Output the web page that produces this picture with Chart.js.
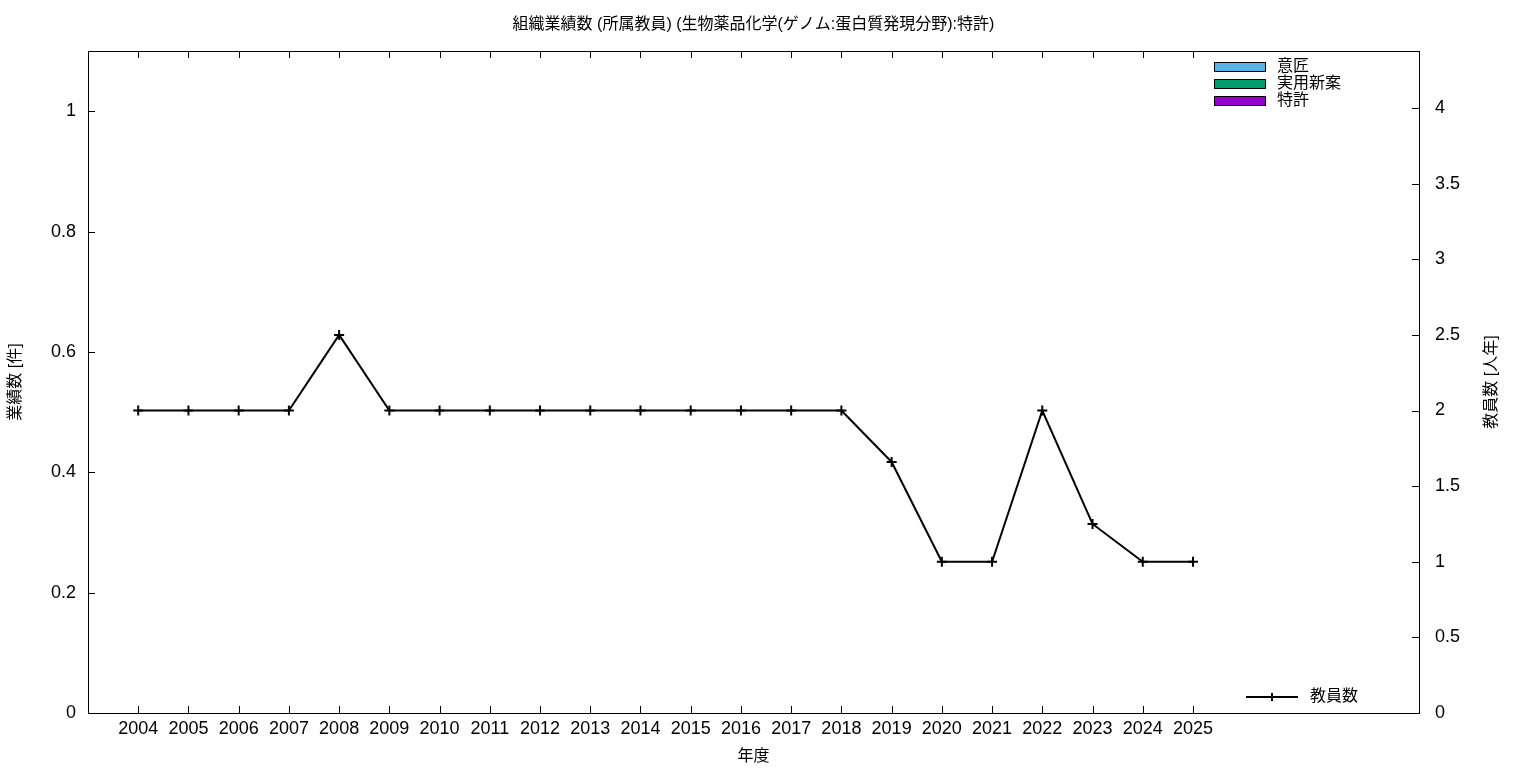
<!DOCTYPE html>
<html>
<head>
<meta charset="utf-8">
<script src="https://cdn.jsdelivr.net/npm/chart.js@4.4.1/dist/chart.umd.min.js"></script>
<style>
  html, body { margin: 0; padding: 0; background: #fff; }
  #wrap { width: 1536px; height: 768px; }
</style>
</head>
<body>
<div id="wrap"><canvas id="chart" width="1536" height="768"></canvas></div>
<script>
const years = [2004, 2005, 2006, 2007, 2008, 2009, 2010, 2011, 2012, 2013, 2014,
  2015, 2016, 2017, 2018, 2019, 2020, 2021, 2022, 2023, 2024, 2025];
const design = [0, 0, 0, 0, 0, 0, 0, 0, 0, 0, 0, 0, 0, 0, 0, 0, 0, 0, 0, 0, 0, 0];
const utilityModel = [0, 0, 0, 0, 0, 0, 0, 0, 0, 0, 0, 0, 0, 0, 0, 0, 0, 0, 0, 0, 0, 0];
const patent = [0, 0, 0, 0, 0, 0, 0, 0, 0, 0, 0, 0, 0, 0, 0, 0, 0, 0, 0, 0, 0, 0];
const staff = [2, 2, 2, 2, 2.5, 2, 2, 2, 2, 2, 2, 2, 2, 2, 2, 1.66, 1, 1, 2, 1.25, 1, 1];
const leftTicks = [0, 0.2, 0.4, 0.6, 0.8, 1];
const rightTicks = [0, 0.5, 1, 1.5, 2, 2.5, 3, 3.5, 4];

const titleText = "組織業績数 (所属教員) (生物薬品化学(ゲノム:蛋白質発現分野):特許)";
const y2Title = "教員数 [人年]";
const FONT = "'Liberation Sans', 'Noto Sans CJK JP', sans-serif";

const pts = arr => arr.map((v, i) => ({ x: years[i], y: v }));
const num = v => String(Math.round(v * 100) / 100);

// frame, inward ticks, title, right axis title and the two legends (gnuplot look)
const gnuplotLook = {
  id: "gnuplotLook",
  afterDraw(chart) {
    const ctx = chart.ctx;
    const a = chart.chartArea;
    const sx = chart.scales.x, sy = chart.scales.y, sy2 = chart.scales.y2;
    ctx.save();
    ctx.strokeStyle = "#000";
    ctx.lineWidth = 1;
    ctx.strokeRect(Math.round(a.left) + 0.5, Math.round(a.top) + 0.5,
      Math.round(a.right - a.left), Math.round(a.bottom - a.top));
    ctx.beginPath();
    sx.ticks.forEach(t => {
      const x = Math.round(sx.getPixelForValue(t.value)) + 0.5;
      ctx.moveTo(x, a.bottom); ctx.lineTo(x, a.bottom - 7);
      ctx.moveTo(x, a.top); ctx.lineTo(x, a.top + 7);
    });
    sy.ticks.forEach(t => {
      const y = Math.round(sy.getPixelForValue(t.value)) + 0.5;
      ctx.moveTo(a.left, y); ctx.lineTo(a.left + 7, y);
    });
    sy2.ticks.forEach(t => {
      const y = Math.round(sy2.getPixelForValue(t.value)) + 0.5;
      ctx.moveTo(a.right, y); ctx.lineTo(a.right - 7, y);
    });
    ctx.stroke();

    ctx.fillStyle = "#000";
    ctx.font = "16px " + FONT;
    ctx.textAlign = "center";
    ctx.textBaseline = "middle";
    ctx.fillText(titleText, (a.left + a.right) / 2, 25);

    ctx.save();
    ctx.translate(1492, (a.top + a.bottom) / 2);
    ctx.rotate(-Math.PI / 2);
    ctx.fillText(y2Title, 0, 0);
    ctx.restore();

    // bar legend, top right
    ctx.textAlign = "left";
    chart.data.datasets.filter(d => d.type === "bar").forEach((d, i) => {
      const y = 67 + i * 17;
      ctx.fillStyle = d.backgroundColor;
      ctx.fillRect(1215, y - 4, 50, 8);
      ctx.strokeStyle = "#000";
      ctx.lineWidth = 1;
      ctx.strokeRect(1214.5, y - 4.5, 51, 9);
      ctx.fillStyle = "#000";
      ctx.fillText(d.label, 1277, y);
    });

    // line legend, bottom right
    const ld = chart.data.datasets.find(d => d.type === "line");
    const ly = 697;
    ctx.strokeStyle = ld.borderColor;
    ctx.lineWidth = 2;
    ctx.beginPath();
    ctx.moveTo(1246, ly); ctx.lineTo(1298, ly);
    ctx.moveTo(1272, ly - 4); ctx.lineTo(1272, ly + 4);
    ctx.stroke();
    ctx.fillStyle = "#000";
    ctx.fillText(ld.label, 1310, ly);
    ctx.restore();
  }
};

const barOpts = { yAxisID: "y", barThickness: 10, borderWidth: 0, inflateAmount: 0 };

new Chart(document.getElementById("chart"), {
  data: {
    datasets: [
      { type: "bar", label: "意匠", data: pts(design), backgroundColor: "#56b4e9", ...barOpts },
      { type: "bar", label: "実用新案", data: pts(utilityModel), backgroundColor: "#009e73", ...barOpts },
      { type: "bar", label: "特許", data: pts(patent), backgroundColor: "#9400d3", ...barOpts },
      {
        type: "line", label: "教員数", data: pts(staff), yAxisID: "y2",
        borderColor: "#000", borderWidth: 2, tension: 0,
        pointStyle: "cross", pointRadius: 5, pointBorderWidth: 2,
        pointBorderColor: "#000", pointBackgroundColor: "#000"
      }
    ]
  },
  options: {
    responsive: false,
    animation: false,
    layout: { padding: { top: 51 } },
    plugins: { legend: { display: false }, title: { display: false }, tooltip: { enabled: false } },
    scales: {
      x: {
        type: "linear", min: 2003, max: 2029.5, offset: false,
        afterBuildTicks: s => { s.ticks = years.map(v => ({ value: v })); },
        afterFit: s => { s.height = 55; },
        grid: { display: false, drawTicks: false },
        border: { display: false },
        ticks: { color: "#000", font: { size: 18, family: FONT }, padding: 5, maxRotation: 0, autoSkip: false,
          callback: v => String(v) },
        title: { display: true, text: "年度", color: "#000", font: { size: 16, family: FONT }, padding: { top: 0, bottom: 2 } }
      },
      y: {
        type: "linear", position: "left", min: 0, max: 1.1,
        afterBuildTicks: s => { s.ticks = leftTicks.map(v => ({ value: v })); },
        afterFit: s => { s.width = 88; },
        grid: { display: false, drawTicks: false },
        border: { display: false },
        ticks: { color: "#000", font: { size: 18, family: FONT }, padding: 12, callback: num },
        title: { display: true, text: "業績数 [件]", color: "#000", font: { size: 16, family: FONT }, padding: { top: 6, bottom: 0 } }
      },
      y2: {
        type: "linear", position: "right", min: 0, max: 4.377,
        afterBuildTicks: s => { s.ticks = rightTicks.map(v => ({ value: v })); },
        afterFit: s => { s.width = 117; },
        grid: { display: false, drawTicks: false },
        border: { display: false },
        ticks: { color: "#000", font: { size: 18, family: FONT }, padding: 16, callback: num },
        title: { display: false }
      }
    }
  },
  plugins: [gnuplotLook]
});
</script>
</body>
</html>
